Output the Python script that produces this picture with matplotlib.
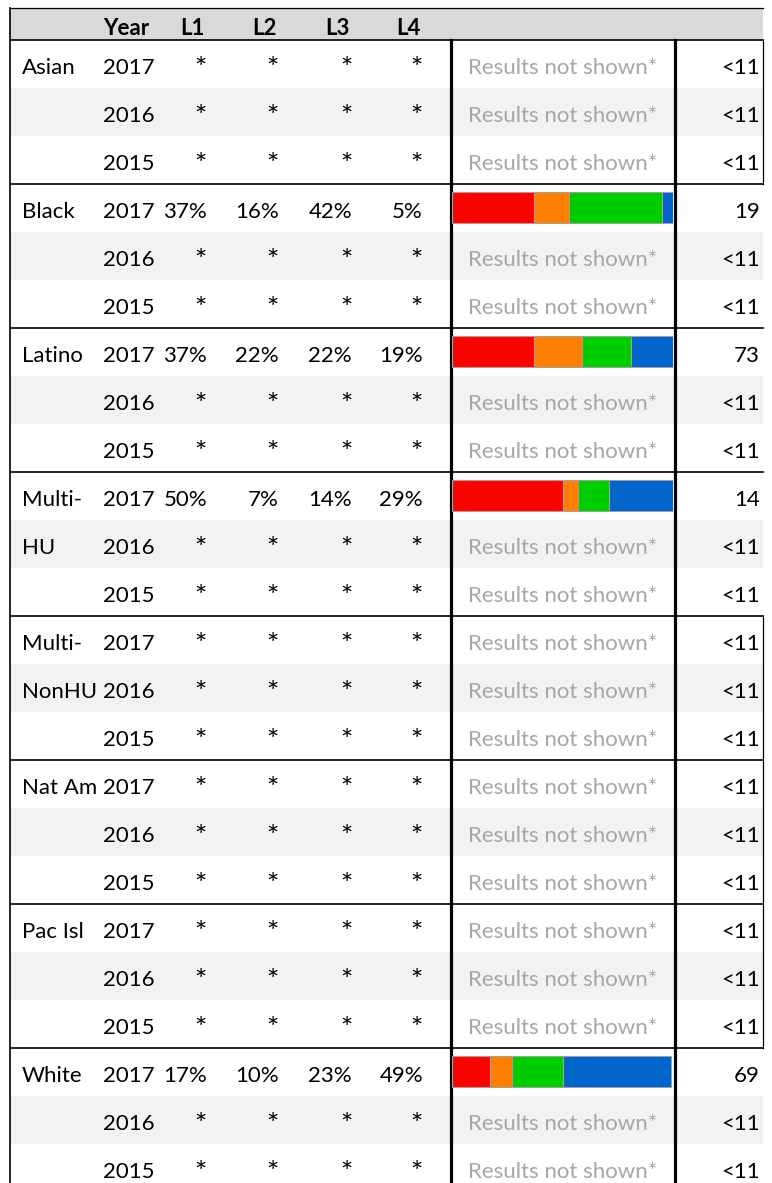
import numpy as np
import matplotlib
matplotlib.use("Agg")
import matplotlib.pyplot as plt

# ---------------- data ----------------
groups = ["Asian", "Black", "Latino", "Multi-HU", "Multi-NonHU", "Nat Am", "Pac Isl", "White"]
group_label_lines = [["Asian"], ["Black"], ["Latino"], ["Multi-", "HU"], ["Multi-", "NonHU"],
                     ["Nat Am"], ["Pac Isl"], ["White"]]
years = [2017, 2016, 2015]
level_names = ["L1", "L2", "L3", "L4"]

nan = np.nan
# one entry per row (group x year), NaN = suppressed
L1 = [nan, nan, nan, 37, nan, nan, 37, nan, nan, 50, nan, nan,
      nan, nan, nan, nan, nan, nan, nan, nan, nan, 17, nan, nan]
L2 = [nan, nan, nan, 16, nan, nan, 22, nan, nan, 7, nan, nan,
      nan, nan, nan, nan, nan, nan, nan, nan, nan, 10, nan, nan]
L3 = [nan, nan, nan, 42, nan, nan, 22, nan, nan, 14, nan, nan,
      nan, nan, nan, nan, nan, nan, nan, nan, nan, 23, nan, nan]
L4 = [nan, nan, nan, 5, nan, nan, 19, nan, nan, 29, nan, nan,
      nan, nan, nan, nan, nan, nan, nan, nan, nan, 49, nan, nan]
N = ["<11", "<11", "<11", "19", "<11", "<11", "73", "<11", "<11", "14", "<11", "<11",
     "<11", "<11", "<11", "<11", "<11", "<11", "<11", "<11", "<11", "69", "<11", "<11"]

level_colors = ["#ff0000", "#ff8000", "#00cc00", "#0066cc"]

# ---------------- layout ----------------
W, H = 772, 1183
fig = plt.figure(figsize=(W / 100, H / 100), dpi=100)
plt.rcParams["font.family"] = ["Lato", "DejaVu Sans"]
FS = 16

ROW_TOP, ROW_H = 40, 48
y_top = (0 - ROW_TOP) / ROW_H
y_bot = (H - ROW_TOP) / ROW_H
ax = fig.add_axes([0, 0, 1, 1])
ax.set_xlim(0, W)
ax.set_ylim(y_bot, y_top)
ax.axis("off")

X_LEFT, X_RIGHT = 10, 763
X_V1, X_V2 = 451, 675
X_BAR0, X_BAR1 = 452, 673
header_top = (8 - ROW_TOP) / ROW_H

n_rows = len(groups) * len(years)
BASE = 34 / ROW_H       # baseline offset inside a row
STAR_BASE = 0.80        # baseline offset for the asterisk

# backgrounds
ax.fill_between([X_LEFT, X_RIGHT], header_top, 0, color="#d9d9d9", lw=0, zorder=0)
for r in range(n_rows):
    if r % 3 == 1:
        ax.fill_between([X_LEFT, X_RIGHT], r, r + 1, color="#f2f2f2", lw=0, zorder=0)

# header
hy = (35 - ROW_TOP) / ROW_H
ax.text(103, hy, "Year", ha="left", va="baseline", fontsize=FS, fontweight="bold")
col_right = [207, 279, 352, 423]
for xr, name in zip(col_right, level_names):
    ax.text(xr - 2, hy, name, ha="right", va="baseline", fontsize=FS, fontweight="bold")

# body text
levels = [L1, L2, L3, L4]
for g, lines in enumerate(group_label_lines):
    for k, line in enumerate(lines):
        ax.text(22, g * 3 + k + BASE, line, ha="left", va="baseline", fontsize=FS)
for r in range(n_rows):
    ty = r + BASE
    ax.text(103, ty, str(years[r % 3]), ha="left", va="baseline", fontsize=FS)
    for xr, vals in zip(col_right, levels):
        v = vals[r]
        if np.isnan(v):
            ax.text(xr, r + STAR_BASE, "*", ha="right", va="baseline", fontsize=FS + 5)
        else:
            ax.text(xr, ty, f"{int(v)}%", ha="right", va="baseline", fontsize=FS)
    if np.isnan(L1[r]):
        ax.text((X_V1 + X_V2) / 2, ty, "Results not shown*", ha="center", va="baseline",
                fontsize=FS, color="#a6a6a6")
    ax.text(760, ty, N[r], ha="right", va="baseline", fontsize=FS)

# lines
ax.plot([X_LEFT, X_RIGHT], [header_top, header_top], color="black", lw=0.9, zorder=3)
for g in range(len(groups)):
    ax.plot([X_LEFT, X_RIGHT], [g * 3, g * 3], color="black", lw=1.2, zorder=3)
ax.plot([X_LEFT, X_LEFT], [header_top, y_bot], color="black", lw=1.2, zorder=3)
for g in range(len(groups)):
    rows = range(g * 3, g * 3 + 3)
    if all(np.isnan(L1[r]) for r in rows):
        ax.plot([X_RIGHT, X_RIGHT], [g * 3, g * 3 + 3], color="black", lw=0.9, zorder=3)
for xv in (X_V1, X_V2):
    ax.plot([xv, xv], [0, y_bot], color="black", lw=2.3, zorder=4)

# bars
axb = fig.add_axes([X_BAR0 / W, 0, (X_BAR1 - X_BAR0) / W, 1])
axb.set_xlim(0, 100)
axb.set_ylim(y_bot, y_top)
axb.axis("off")
axb.patch.set_alpha(0)
rows_idx = np.arange(n_rows)
left = np.zeros(n_rows)
for vals, col in zip(levels, level_colors):
    v = np.nan_to_num(np.array(vals, dtype=float))
    mask = v > 0
    axb.barh(rows_idx[mask] + 0.483, v[mask], left=left[mask], height=0.646,
             color=col, edgecolor="#a0a0a0", linewidth=0.8, zorder=2)
    left += v

fig.savefig("out.png", dpi=100)
